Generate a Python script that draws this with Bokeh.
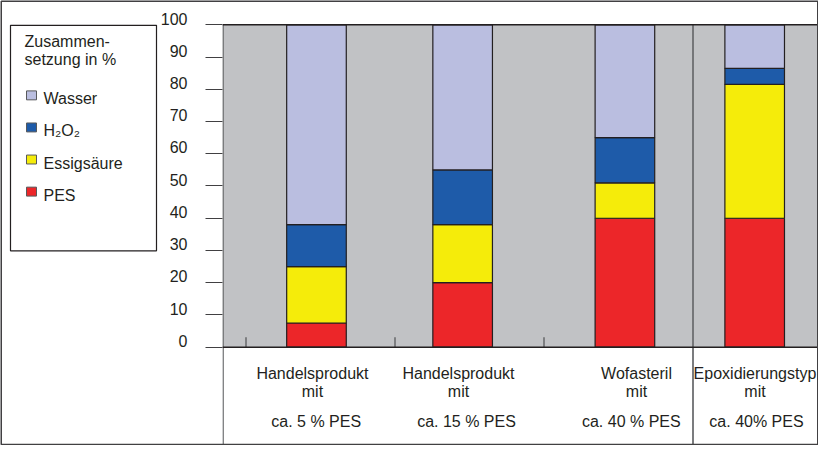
from bokeh.plotting import figure
from bokeh.models import Range1d, FixedTicker, ColumnDataSource, BoxAnnotation, Span, LinearAxis
from bokeh.core.properties import value
from bokeh.embed import file_html
from bokeh.resources import INLINE

# ---------------- data ----------------
categories = ["Handelsprodukt", "Handelsprodukt", "Wofasteril", "Epoxidierungstyp"]
connector = ["mit", "mit", "mit", "mit"]
pes_labels = ["ca. 5 % PES", "ca. 15 % PES", "ca. 40 % PES", "ca. 40% PES"]
series = ["PES", "Essigsäure", "H₂O₂", "Wasser"]
pes = [7.5, 20, 40, 40]
essigsaeure = [17.5, 18, 11, 41.5]
h2o2 = [13, 17, 14, 5]
wasser = [62, 45, 35, 13.5]
y_ticks = [0, 10, 20, 30, 40, 50, 60, 70, 80, 90, 100]
legend_title = ["Zusammen-", "setzung in %"]

# ---------------- layout / style ----------------
FONT = "Liberation Sans"
TXT = "#231f20"
colors = ["#ec2629", "#f5ec0a", "#1e5ba9", "#babee0"]
GRAY = "#c1c2c5"
bar_x = [0.473, 1.454, 2.543, 3.414]      # bar centres in column units
name_x = [0.446, 1.426, 2.621, 3.416]     # label centres
pes_x = [0.471, 1.480, 2.586, 3.426]
bar_w = 0.4

W, H = 818, 445
FL, FR = 222, 0          # frame borders (px)
SHIFT_X = 7              # reference px -> figure px
PX_UNIT = 149.0          # px per column
X_ORIGIN = 252.5         # first column boundary (reference px)
X0 = (229 - X_ORIGIN) / PX_UNIT
X1 = X0 + (W - FL - FR) / PX_UNIT
VS = 445 / 448           # vertical squeeze reference -> figure
ZERO = (353 - 4) * VS    # figure px of y = 0
YPX = (ZERO - (28.5 - 4) * VS) / 100.0
Y0 = -(H - ZERO) / YPX
Y1 = ZERO / YPX
LAB_SHIFT = 6.3 / YPX    # tick labels sit above their ticks


def fx(rx):   # reference px -> data x
    return (rx - X_ORIGIN) / PX_UNIT


def fy(ry):   # reference px -> data y
    return (ZERO - (ry - 4) * VS) / YPX


p = figure(width=W, height=H, output_backend="svg", toolbar_location=None,
           x_range=Range1d(X0, X1), y_range=Range1d(Y0, Y1),
           x_axis_location=None, min_border_left=FL, min_border_right=FR,
           min_border_top=0, min_border_bottom=0)
p.outline_line_color = None
p.xgrid.visible = False
p.ygrid.visible = False
p.background_fill_color = "white"
p.border_fill_color = "white"

# gray plotting area
p.add_layout(BoxAnnotation(bottom=0, top=100, fill_color=GRAY, fill_alpha=1,
                           line_color=None, level="underlay"))

src = ColumnDataSource(dict(x=bar_x, PES=pes, Essig=essigsaeure, H2O2=h2o2, Wasser=wasser))
p.vbar_stack(["PES", "Essig", "H2O2", "Wasser"], x="x", width=bar_w, color=colors,
             line_color=TXT, line_width=1.2, source=src)

# frame lines
p.add_layout(Span(location=100, dimension="width", line_color=TXT, line_width=1.5))
p.add_layout(Span(location=0, dimension="width", line_color=TXT, line_width=1.5))
edge = 0.6 / PX_UNIT
p.segment(x0=[X0 + edge, X1 - edge], y0=[100, 100], x1=[X0 + edge, X1 - edge], y1=[Y0, Y0],
          line_color="#6d6e71", line_width=1.5)
p.segment(x0=[3], y0=[100], x1=[3], y1=[Y0], line_color="#6d6e71", line_width=1.8)
# category boundary ticks
p.segment(x0=[0, 1, 2], y0=[0, 0, 0], x1=[0, 1, 2], y1=[10 / YPX] * 3,
          line_color="#58595b", line_width=1.3)

# y axis: ticks on the main axis, labels on a slightly shifted companion axis
ax = p.yaxis[0]
ax.ticker = FixedTicker(ticks=y_ticks)
ax.major_tick_out = 17
ax.major_tick_in = 0
ax.minor_tick_line_color = None
ax.axis_line_color = None
ax.major_tick_line_color = "#414042"
ax.major_tick_line_width = 1.2
ax.major_label_standoff = 0
ax.major_label_overrides = {t: "" for t in y_ticks}

p.extra_y_ranges = {"labels": Range1d(Y0 - LAB_SHIFT, Y1 - LAB_SHIFT)}
lab_ax = LinearAxis(y_range_name="labels", ticker=FixedTicker(ticks=y_ticks),
                    major_tick_out=0, major_tick_in=0, minor_tick_line_color=None,
                    axis_line_color=None, major_tick_line_color=None,
                    major_label_standoff=18, major_label_text_font=FONT,
                    major_label_text_font_size="16px", major_label_text_color=TXT)
p.add_layout(lab_ax, "left")

# table texts
tsrc = ColumnDataSource(dict(nx=name_x, px=pes_x, name=categories, mit=connector, pes=pes_labels,
                             ny=[fy(380)] * 4, my=[fy(397.7)] * 4, py=[fy(428.3)] * 4))
for xcol, ycol, tcol in [("nx", "ny", "name"), ("nx", "my", "mit"), ("px", "py", "pes")]:
    p.text(x=xcol, y=ycol, text=tcol, source=tsrc, text_font=value(FONT), text_font_size="16px",
           text_color=TXT, text_align="center", text_baseline="middle")

# outer border and legend (outside frame)
ob = p.quad(left=[fx(SHIFT_X + 0.75)], right=[fx(SHIFT_X + W - 0.75)], top=[fy(4.8)], bottom=[fy(451)],
            fill_color=None, line_color="#414042", line_width=1.5)
ob.level = "overlay"
lb = p.quad(left=[fx(17)], right=[fx(163)], top=[fy(29)], bottom=[fy(256)],
            fill_color=None, line_color=TXT, line_width=1.2)
lb.level = "overlay"
tt = p.text(x=[fx(31)] * 2, y=[fy(45.5), fy(63.5)], text=legend_title, text_font=value(FONT),
            text_font_size="16px", text_color=TXT, text_align="left", text_baseline="middle")
tt.level = "overlay"
step = 32.3
lsrc = ColumnDataSource(dict(
    t=series[::-1], c=colors[::-1],
    y=[fy(103 + step * i) for i in range(4)],
    sl=[fx(33)] * 4, sr=[fx(43)] * 4,
    st=[fy(95 + step * i) for i in range(4)],
    sb=[fy(104 + step * i) for i in range(4)],
    tx=[fx(50)] * 4))
sq = p.quad(left="sl", right="sr", top="st", bottom="sb", fill_color="c", line_color="#58595b",
            line_width=1, source=lsrc)
sq.level = "overlay"
lt = p.text(x="tx", y="y", text="t", source=lsrc, text_font=value(FONT), text_font_size="16px",
            text_color=TXT, text_align="left", text_baseline="middle")
lt.level = "overlay"

open("out.html", "w").write(file_html(p, INLINE))
